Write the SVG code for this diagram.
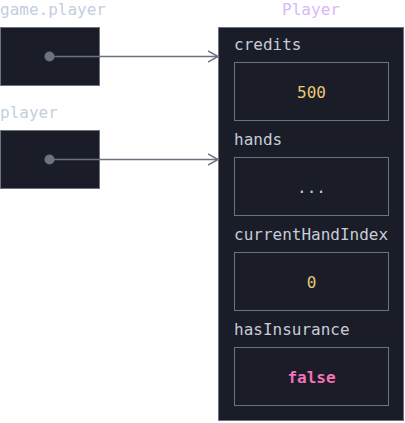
<svg xmlns="http://www.w3.org/2000/svg" width="405" height="423" viewBox="0 0 405 423">
<defs>
<style>
text{font-family:"DejaVu Sans Mono","Liberation Mono",monospace;font-size:16px}
.var{fill:#c3cede}
.title{fill:#d7b8fb;text-anchor:middle}
.field{fill:#c6cdd8}
.box{fill:#1a1c27;stroke:#6b7280;stroke-width:1}
.inner{fill:#1a1c27;stroke:#6b7280;stroke-width:1}
.val{text-anchor:middle}
.num{fill:#e6c874}
.bool{fill:#f472b6;font-weight:bold}
.dots{fill:#c6cdd8}
.conn{stroke:#6b7280;stroke-width:1.5;fill:none}
.dot{fill:#6b7280}
</style>
<marker id="arr" markerWidth="12" markerHeight="14" refX="10" refY="6" orient="auto" markerUnits="userSpaceOnUse" viewBox="0 0 12 12">
<path d="M0,0.5 L10,6 L0,11.5" fill="none" stroke="#6b7280" stroke-width="1.5"/>
</marker>
</defs>
<rect width="405" height="423" fill="#ffffff"/>
<g id="var-game-player">
<text class="var" x="0" y="15">game.player</text>
<rect class="box" x="0.5" y="27.5" width="99" height="58"/>
</g>
<g id="var-player">
<text class="var" x="0" y="118">player</text>
<rect class="box" x="0.5" y="130.5" width="99" height="58"/>
</g>
<g id="obj-player">
<text class="title" x="311" y="15">Player</text>
<rect class="box" x="218.5" y="27.5" width="185" height="393"/>
<text class="field" x="234" y="50">credits</text>
<rect class="inner" x="234.5" y="62.5" width="154" height="58"/>
<text class="val num" x="311.5" y="98">500</text>
<text class="field" x="234" y="145">hands</text>
<rect class="inner" x="234.5" y="157.5" width="154" height="58"/>
<text class="val dots" x="311.5" y="193">...</text>
<text class="field" x="234" y="240">currentHandIndex</text>
<rect class="inner" x="234.5" y="252.5" width="154" height="58"/>
<text class="val num" x="311.5" y="288">0</text>
<text class="field" x="234" y="335">hasInsurance</text>
<rect class="inner" x="234.5" y="347.5" width="154" height="58"/>
<text class="val bool" x="311.5" y="383">false</text>
</g>
<g id="connectors">
<line class="conn" x1="49.5" y1="56.5" x2="218" y2="56.5" marker-end="url(#arr)"/>
<line class="conn" x1="49.5" y1="159.5" x2="218" y2="159.5" marker-end="url(#arr)"/>
<circle class="dot" cx="49.5" cy="56.5" r="5"/>
<circle class="dot" cx="49.5" cy="159.5" r="5"/>
</g>
</svg>
